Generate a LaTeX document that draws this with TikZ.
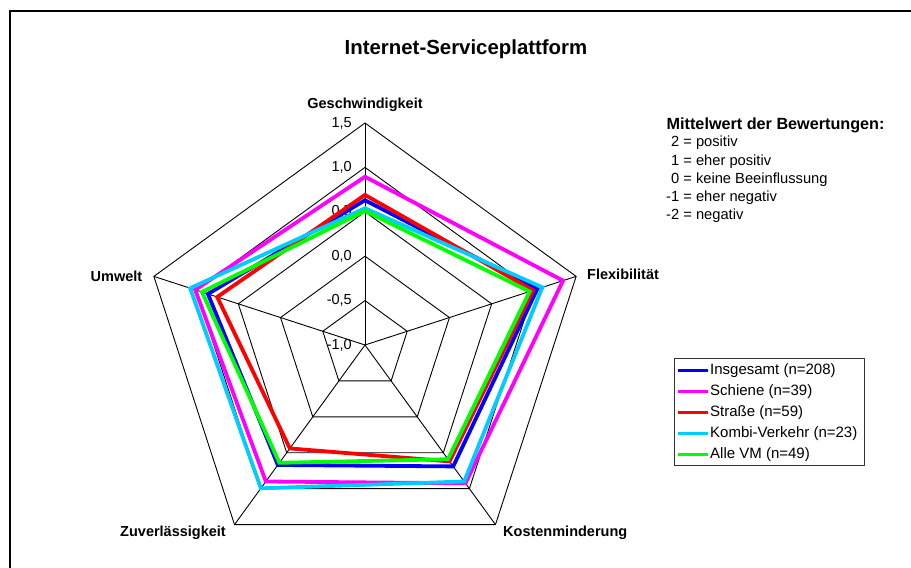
\documentclass[tikz,border=0pt]{standalone}
\usepackage{fontspec}
\setmainfont{Liberation Sans}

% Series colours
\definecolor{serblue}{RGB}{0,0,255}
\definecolor{sermagenta}{RGB}{255,0,255}
\definecolor{serred}{RGB}{255,0,0}
\definecolor{sercyan}{RGB}{0,204,255}
\definecolor{sergreen}{RGB}{0,255,0}

% Pixels per rating unit on the radar axes
\newcommand\unitlen{88.8}
% One closed series polygon: colour, then the five axis values
\newcommand\ratingpoly[6]{%
  \draw[series,#1] (90:{(#2+1)*\unitlen}) -- (18:{(#3+1)*\unitlen})
    -- (-54:{(#4+1)*\unitlen}) -- (-126:{(#5+1)*\unitlen})
    -- (162:{(#6+1)*\unitlen}) -- cycle;}

\begin{document}
\begin{tikzpicture}[x=1pt,y=1pt,
  gridline/.style={black,line width=0.9pt},
  series/.style={line width=3.8pt,line join=miter},
  axislabel/.style={font=\fontsize{14.5}{17}\selectfont\bfseries,inner sep=0pt},
  ticklabel/.style={font=\fontsize{14.5}{17}\selectfont,anchor=east,inner sep=0pt},
  notetext/.style={font=\fontsize{14.7}{17}\selectfont,anchor=west,inner sep=0pt},
  legtext/.style={font=\fontsize{15}{17}\selectfont,anchor=west,inner sep=0pt},
  legline/.style={line width=3.8pt}]
\useasboundingbox (0,0) rectangle (911,568);

% Outer chart frame (runs off the right and bottom edges)
\begin{scope}
  \clip (0,0) rectangle (911,568);
  \draw[line width=2pt] (10,-20) -- (10,557) -- (930,557);
\end{scope}

% Title
\node[font=\fontsize{20.4}{24}\selectfont\bfseries,inner sep=0pt] (title) at (466,519) {Internet-Serviceplattform};

% Radar chart
\begin{scope}[shift={(365,223)}]
  \coordinate (O) at (0,0);
  % level pentagons
  \foreach \r in {44.4,88.8,133.2,177.6,222}
    \draw[gridline] (90:\r) -- (18:\r) -- (-54:\r) -- (-126:\r) -- (162:\r) -- cycle;
  % spokes
  \foreach \a in {90,18,-54,-126,162}
    \draw[gridline] (O) -- (\a:222);
  % scale labels
  \node[ticklabel] (t15) at (-13,222) {1,5};
  \node[ticklabel] (t10) at (-13,177.6) {1,0};
  \node[ticklabel] (t05) at (-13,133.2) {0,5};
  \node[ticklabel] (t00) at (-13,88.8) {0,0};
  \node[ticklabel] (tm05) at (-13,44.4) {-0,5};
  \node[ticklabel] (tm10) at (-13,0) {-1,0};

  % series: Geschwindigkeit, Flexibilitaet, Kostenminderung, Zuverlaessigkeit, Umwelt
  \ratingpoly{serblue}{0.63}{1.04}{0.69}{0.67}{0.86}
  \ratingpoly{sermagenta}{0.895}{1.345}{0.925}{0.90}{1.01}
  \ratingpoly{serred}{0.69}{0.99}{0.62}{0.44}{0.75}
  \ratingpoly{sercyan}{0.54}{1.10}{0.90}{0.995}{1.07}
  \ratingpoly{sergreen}{0.51}{0.95}{0.59}{0.64}{0.93}
\end{scope}

% Axis names
\node[axislabel] (geschw) at (365,463) {Geschwindigkeit};
\node[axislabel,anchor=west] (flex) at (587,293.7) {Flexibilität};
\node[axislabel,anchor=west] (kosten) at (503,35.7) {Kostenminderung};
\node[axislabel,anchor=east] (zuverl) at (226,35.7) {Zuverlässigkeit};
\node[axislabel,anchor=east] (umwelt) at (142.5,292) {Umwelt};

% Rating key
\node[notetext,font=\fontsize{16.2}{18}\selectfont\bfseries] (keyhead) at (666.5,443) {Mittelwert der Bewertungen:};
\node[notetext] (k2) at (666,425) {\hphantom{-}2 = positiv};
\node[notetext] (k1) at (666,406.5) {\hphantom{-}1 = eher positiv};
\node[notetext] (k0) at (666,388) {\hphantom{-}0 = keine Beeinflussung};
\node[notetext] (km1) at (666,370.3) {-1 = eher negativ};
\node[notetext] (km2) at (666,352) {-2 = negativ};

% Legend
\draw[line width=1pt,black!80] (674,209) rectangle (864,102);
\draw[legline,serblue] (678,197.5) -- (708,197.5);
\node[legtext] (l1) at (710,197.5) {Insgesamt (n=208)};
\draw[legline,sermagenta] (678,176.5) -- (708,176.5);
\node[legtext] (l2) at (710,176.5) {Schiene (n=39)};
\draw[legline,serred] (678,155.5) -- (708,155.5);
\node[legtext] (l3) at (710,155.5) {Straße (n=59)};
\draw[legline,sercyan] (678,134.5) -- (708,134.5);
\node[legtext] (l4) at (710,134.5) {Kombi-Verkehr (n=23)};
\draw[legline,sergreen] (678,113.5) -- (708,113.5);
\node[legtext] (l5) at (710,113.5) {Alle VM (n=49)};
\end{tikzpicture}
\end{document}
